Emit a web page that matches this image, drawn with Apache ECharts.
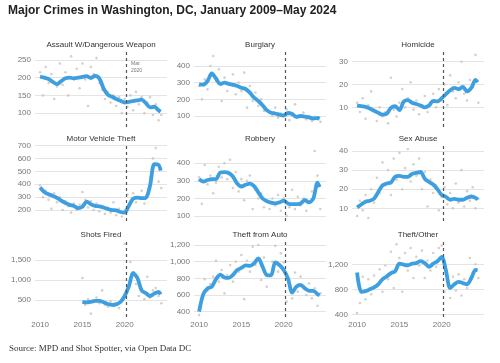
<!DOCTYPE html>
<html><head><meta charset="utf-8">
<script src="https://cdn.jsdelivr.net/npm/echarts@6/dist/echarts.min.js"></script>
<style>html,body{margin:0;padding:0;background:#fff}#c{width:500px;height:363px}</style>
</head><body><div id="c"></div>
<script>
// ---- DATA ----
const TITLES = ["Assault W/Dangerous Weapon","Burglary","Homicide","Motor Vehicle Theft","Robbery","Sex Abuse","Shots Fired","Theft from Auto","Theft/Other"];
const X_TICKS = [2010, 2015, 2020];
const MARKER_DATE = 2020.17; // March 2020
// smoothed trend, half-year steps
const LINE_X = [2010,2010.5,2011,2011.5,2012,2012.5,2013,2013.5,2014,2014.5,2015,2015.5,2016,2016.5,2017,2017.5,2018,2018.5,2019,2019.5,2020,2020.5,2021,2021.5,2022,2022.5,2023,2023.5,2024,2024.25];
const assaultLine  = [203,200,196,188,182,190,198,200,198,200,202,204,199,205,198,170,152,146,140,135,130,132,134,136,138,128,116,118,108,104];
const burglaryLine = [290,288,310,355,325,292,300,293,287,280,270,262,240,210,190,165,135,120,115,108,103,118,112,95,100,96,92,85,88,84];
const homicideLine = [10.8,10.5,10.2,9.5,8.5,7.6,6.8,7.2,9.8,10.5,8.8,12.5,13.2,12,11.5,10.8,10,10.8,12.8,12.6,14,15.8,17.5,18.5,18,19,17,18.5,22,21];
const motorLine    = [375,340,322,310,295,272,255,240,232,215,225,265,245,232,228,220,208,200,197,185,180,235,288,296,292,295,390,555,550,505];
const robberyLine  = [310,296,305,310,310,348,350,345,325,285,268,278,285,270,235,200,185,176,172,178,188,172,168,168,172,190,178,200,290,265];
const sexLine      = [10.5,12,13.5,14,15,18.5,22,23,23.5,26.5,27,26.5,26.5,28,28.5,29,25.5,23.8,22.5,20,17,16,14.5,15,14.5,14.5,15.5,16.2,15.5,14.5];
const shotsLine    = [null,null,null,null,null,null,null,null,null,null,455,440,455,480,480,445,400,378,390,450,600,850,1170,1050,740,670,600,660,700,640];
const autoLine     = [400,610,680,700,790,845,810,805,840,900,925,955,950,980,1040,940,840,835,990,960,900,800,630,700,720,680,650,650,610,595];
const otherLine    = [1070,760,770,800,830,880,960,1005,1060,1090,1210,1195,1185,1210,1220,1250,1220,1160,1210,1250,1320,1100,820,880,920,900,880,980,1110,1105];
// raw points, every 4 months from Jan 2010
const assaultPts  = [215,150,230,185,210,140,175,240,180,215,150,260,195,225,170,240,195,120,230,210,255,185,165,140,160,130,150,120,145,100,140,118,150,108,160,125,145,100,130,145,95,125,80,95];
const burglaryPts = [280,200,320,260,400,460,310,380,190,330,250,290,350,230,300,250,360,150,280,190,240,160,200,130,140,120,100,150,90,115,105,140,75,110,170,90,100,120,80,100,70,95,80,65];
const homicidePts = [12,8,14,5,11,17,9,4,10,6,8,3,23,9,6,12,18,10,14,21,9,13,7,11,15,8,12,16,10,18,13,20,11,24,17,14,21,30,16,13,22,19,33,12];
const motorPts    = [390,300,350,280,210,330,260,300,200,270,230,180,250,200,240,340,280,220,270,200,250,190,230,170,220,180,260,160,210,150,200,320,240,330,260,300,350,250,320,450,600,680,420,370];
const robberyPts  = [320,170,390,280,330,230,290,380,320,400,310,420,260,350,240,310,190,300,330,140,250,200,230,150,180,140,200,160,220,130,200,100,150,250,140,210,160,200,130,180,240,470,330,140];
const sexPts      = [6,14,9,17,5,20,13,26,18,34,22,30,17,36,25,39,20,31,41,24,33,27,36,20,29,11,25,18,22,9,16,21,12,18,10,23,13,30,11,19,14,21,10,15];
const shotsPts    = [null,null,null,null,null,null,null,null,null,null,null,null,null,null,null,1050,380,520,160,450,560,420,740,380,330,460,350,420,300,520,1900,780,1450,1200,900,600,780,520,1080,560,740,800,600,420];
const autoPts     = [360,560,790,650,730,820,1010,760,900,620,840,960,760,1000,880,1080,550,1010,880,1180,960,1200,780,1050,700,830,1000,1190,880,1100,990,520,780,560,870,640,820,700,600,740,560,680,470,620];
const otherPts    = [420,580,1000,640,960,720,1020,880,1120,760,1180,960,1400,820,1520,1300,760,1380,1100,1460,980,1320,1180,1420,980,1260,1100,1380,1160,1460,1500,760,940,660,1000,780,1040,700,960,820,1300,1060,1200,980];
// y-axis tick labels and ranges
const Y_TICKS = [[100,150,200,250],[100,200,300,400],[10,20,30],[200,300,400,500,600,700],[100,200,300,400],[10,20,30,40],[500,1000,1500],[400,600,800,1000,1200],[400,800,1200]];
const Y_MIN = [61,34,1.4,115,72,3.4,75,336,357];
const Y_MAX = [275,490,34.7,704,504,43.1,1975,1248,1573];

const LINES = [assaultLine,burglaryLine,homicideLine,motorLine,robberyLine,sexLine,shotsLine,autoLine,otherLine];
const POINTS = [assaultPts,burglaryPts,homicidePts,motorPts,robberyPts,sexPts,shotsPts,autoPts,otherPts];

// ---- LAYOUT ----
const COL_LEFT = [35, 194, 352], GRID_W = 132;
const ROW_TOP = [51, 145, 241], GRID_H = 76;
const FONT = "'Liberation Sans', Arial, sans-serif";

const grids = [], xAxes = [], yAxes = [], series = [], graphics = [];
const fmt = v => Number(v).toLocaleString('en-US');

for (let p = 0; p < 9; p++) {
  const r = Math.floor(p / 3), c = p % 3;
  grids.push({left: COL_LEFT[c], top: ROW_TOP[r], width: GRID_W, height: GRID_H});
  xAxes.push({
    type: 'value', gridIndex: p, min: 2009.4, max: 2025,
    axisLine: {show: false}, splitLine: {show: false},
    axisTick: {show: false, customValues: X_TICKS},
    axisLabel: {show: r === 2, customValues: X_TICKS, formatter: v => String(v), color: '#777', fontSize: 8, fontFamily: FONT, margin: 4}
  });
  yAxes.push({
    type: 'value', gridIndex: p, min: Y_MIN[p], max: Y_MAX[p],
    axisLine: {show: false},
    axisTick: {show: false, customValues: Y_TICKS[p]},
    axisLabel: {customValues: Y_TICKS[p], formatter: fmt, color: '#777', fontSize: 8, fontFamily: FONT, margin: 4},
    splitLine: {show: true, lineStyle: {color: '#e4e4e4', width: 1}}
  });
  const pts = [];
  POINTS[p].forEach((v, i) => { if (v !== null) pts.push([2010 + i / 3, v]); });
  series.push({
    type: 'scatter', xAxisIndex: p, yAxisIndex: p, data: pts, symbolSize: 2.6, silent: true,
    itemStyle: {color: '#cdc3be'}
  });
  const ln = [];
  LINES[p].forEach((v, i) => { if (v !== null) ln.push([LINE_X[i], v]); });
  series.push({
    type: 'line', xAxisIndex: p, yAxisIndex: p, data: ln, smooth: 0.3, showSymbol: false, silent: true,
    lineStyle: {color: '#3d9fe0', width: 3.8}, z: 3,
    markLine: {silent: true, symbol: 'none', label: {show: false}, z: 4,
      lineStyle: {type: [3, 3], color: '#555', width: 1.2},
      data: [{xAxis: MARKER_DATE}]}
  });
  graphics.push({type: 'text', x: COL_LEFT[c] + GRID_W / 2, y: ROW_TOP[r] - 6,
    style: {text: TITLES[p], fontSize: 8, fontFamily: FONT, fill: '#333', align: 'center', verticalAlign: 'middle'}});
}
graphics.push({type: 'text', x: 8, y: 11, style: {text: 'Major Crimes in Washington, DC, January 2009–May 2024', fontSize: 12, fontWeight: 'bold', fontFamily: FONT, fill: '#222', align: 'left', verticalAlign: 'middle'}});
graphics.push({type: 'text', x: 9, y: 349, style: {text: 'Source: MPD and Shot Spotter, via Open Data DC', fontSize: 9, fontFamily: "'Liberation Serif', serif", fill: '#333', align: 'left', verticalAlign: 'middle'}});
graphics.push({type: 'text', x: 131, y: 60, style: {text: 'Mar.\n2020', fontSize: 5, lineHeight: 7, fontFamily: FONT, fill: '#777', align: 'left', verticalAlign: 'top'}});

const chart = echarts.init(document.getElementById('c'), null, {renderer: 'canvas'});
chart.setOption({animation: false, backgroundColor: '#fff', grid: grids, xAxis: xAxes, yAxis: yAxes, series, graphic: graphics});
</script></body></html>
